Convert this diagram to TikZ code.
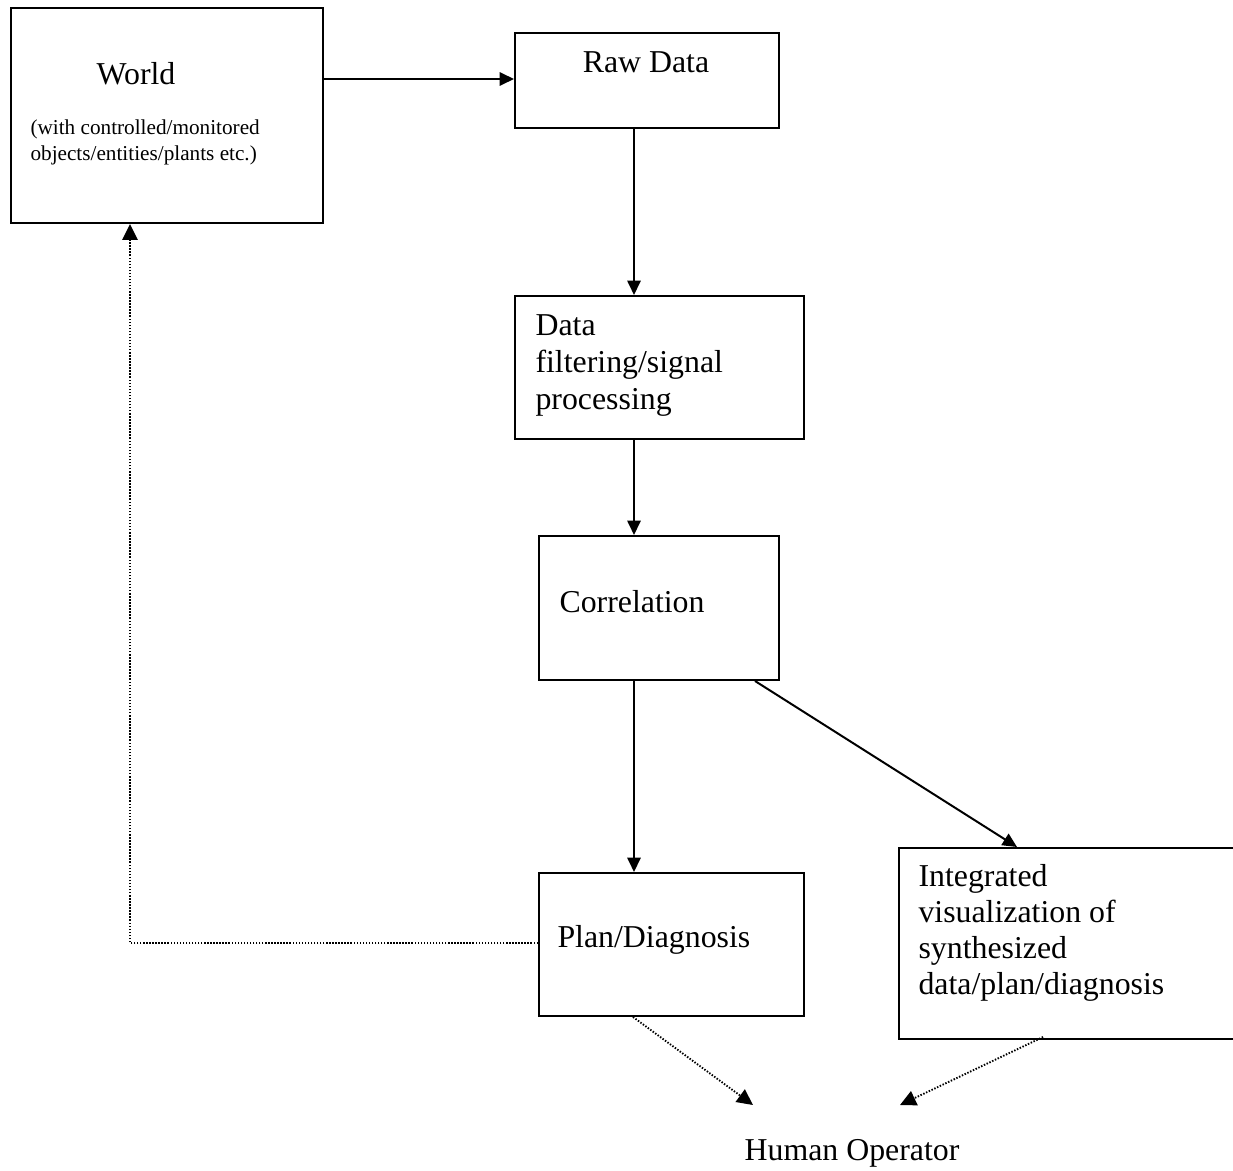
\documentclass[tikz,border=0pt]{standalone}
\usepackage{fontspec}
\setmainfont{Liberation Serif}
\usetikzlibrary{arrows.meta,calc}
\begin{document}
\begin{tikzpicture}[x=0.377pt,y=-0.377pt,
  box/.style={draw,line width=0.75pt,rectangle,inner sep=0pt,anchor=north west},
  lbl/.style={inner sep=0pt,anchor=west,font=\fontsize{12}{14}\selectfont},
  arr/.style={line width=0.75pt,-{Triangle[length=5.4pt,width=5pt]}},
  dotarr/.style={line width=0.7pt,dash pattern=on 0.55pt off 0.6pt,-{Triangle[length=6pt,width=5.8pt]}}]
\useasboundingbox (0,0) rectangle (1233,1170);

% boxes
\node[box,minimum width=312*0.377pt,minimum height=215*0.377pt] (world) at (10,7) {};
\node[box,minimum width=264*0.377pt,minimum height=95*0.377pt] (raw) at (514,32) {};
\node[box,minimum width=289*0.377pt,minimum height=143*0.377pt] (filt) at (514,295) {};
\node[box,minimum width=240*0.377pt,minimum height=144*0.377pt] (corr) at (538,535) {};
\node[box,minimum width=265*0.377pt,minimum height=143*0.377pt] (plan) at (538,872) {};
\node[box,minimum width=360*0.377pt,minimum height=191*0.377pt] (integ) at (898,847) {};

% texts
\node[lbl,anchor=center] (tworld) at (136,74) {World};
\node[inner sep=0pt,anchor=north west,align=left,font=\fontsize{8}{9.8}\selectfont] (tworld2) at (30,119) {(with controlled/monitored\\objects/entities/plants etc.)};
\node[lbl,anchor=center] (traw) at (646,62) {Raw Data};
\node[lbl,anchor=north west,align=left,font=\fontsize{12}{14}\selectfont] (tfilt) at (535,314) {Data\\filtering/signal\\processing};
\node[lbl] (tcorr) at (559,602) {Correlation};
\node[lbl] (tplan) at (557,940) {Plan/Diagnosis};
\node[lbl,anchor=north west,align=left,font=\fontsize{12}{13.6}\selectfont] (tinteg) at (918,864) {Integrated\\visualization of\\synthesized\\data/plan/diagnosis};
\node[lbl,anchor=center] (human) at (852,1153) {Human Operator};

% connector helpers
\coordinate (vx) at (634,0);
\coordinate (wy) at (0,79);
\coordinate (dx) at (130,0);
\coordinate (py) at (0,943);
\coordinate (dstart) at ($(corr.south west)+(217,0)$);
\coordinate (dend) at ($(integ.north west)+(119,0)$);
\coordinate (pdot) at ($(plan.south west)+(95,0)$);
\coordinate (idot) at ($(integ.south west)+(145,-3)$);
\coordinate (tipL) at (753,1105);
\coordinate (tipR) at (900,1105);

% solid flow
\draw[arr] (world.east |- wy) -- (raw.west |- wy);
\draw[arr] (raw.south -| vx) -- (filt.north -| vx);
\draw[arr] (filt.south -| vx) -- (corr.north -| vx);
\draw[arr] (corr.south -| vx) -- (plan.north -| vx);
\draw[arr] (dstart) -- (dend);

% dotted feedback and outputs
\draw[dotarr] (plan.west |- py) -- (dx |- py) -- (world.south -| dx);
\draw[dotarr] (pdot) -- (tipL);
\draw[dotarr] (idot) -- (tipR);
\end{tikzpicture}
\end{document}
